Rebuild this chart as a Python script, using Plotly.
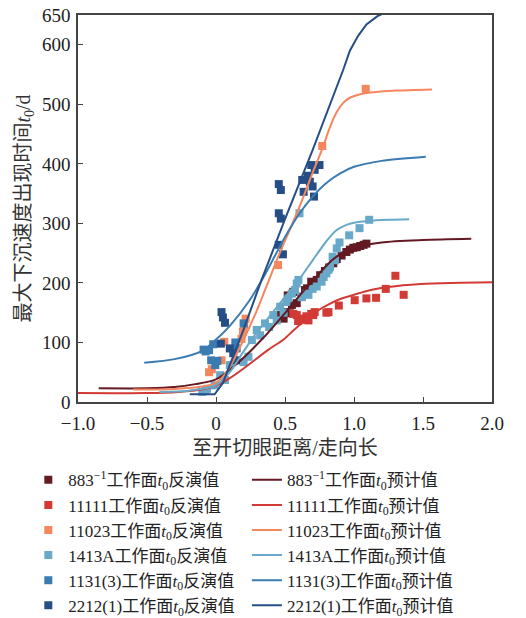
import plotly.graph_objects as go

# ---------------- data ----------------
names = ["883<sup>−1</sup>", "11111", "11023", "1413A", "1131(3)", "2212(1)"]
colors = ["#631a23", "#d23a35", "#f4875e", "#68a9c9", "#3a7bb1", "#264e86"]

# inversion values (squares)
pts_883_x = [0.47, 0.49, 0.50, 0.52, 0.535, 0.55, 0.56, 0.585, 0.62, 0.645, 0.66, 0.69, 0.73,
             0.755, 0.79, 0.82, 0.85, 0.875, 0.91, 0.945, 0.97, 0.995, 1.02, 1.045, 1.07, 1.09]
pts_883_y = [146, 140, 151, 179, 149, 163, 185, 166, 177, 188, 191, 202, 205,
             213, 220, 226, 233, 240, 246, 252, 256, 259, 260, 262, 264, 266]

pts_11111_x = [0.56, 0.585, 0.595, 0.62, 0.635, 0.655, 0.67, 0.69, 0.705, 0.715, 0.80, 0.815,
               0.89, 1.005, 1.09, 1.16, 1.23, 1.30, 1.36]
pts_11111_y = [148, 146, 136, 138, 140, 144, 137, 148, 146, 151, 150, 151,
               162, 171, 174, 175, 190, 212, 180]

pts_11023_x = [-0.05, -0.03, 0.04, 0.06, 0.185, 0.195, 0.205, 0.215, 0.45, 0.77, 1.085]
pts_11023_y = [50, 55, 70, 101, 106, 118, 129, 140, 230, 430, 526]

pts_1413_x = [-0.10, -0.08, -0.065, -0.01, 0.03, 0.065, 0.10, 0.20, 0.235, 0.26, 0.295, 0.32,
              0.355, 0.385, 0.415, 0.44, 0.465, 0.49, 0.51, 0.525, 0.55, 0.572, 0.585, 0.597,
              0.605, 0.62, 0.655, 0.67, 0.70, 0.73, 0.765, 0.78, 0.80, 0.815, 0.826, 0.845,
              0.862, 0.875, 0.895, 0.965, 1.04, 1.11]
pts_1413_y = [17, 20, 22, 28, 45, 37, 62, 67, 76, 104, 121, 112,
              132, 126, 146, 137, 160, 150, 168, 174, 182, 188, 199, 205,
              317, 176, 182, 180, 190, 194, 202, 210, 216, 222, 227, 244,
              238, 258, 268, 280, 292, 306]

pts_1131_x = [-0.09, -0.075, -0.05, -0.02, -0.035, -0.005, 0.01, 0.14, 0.15, 0.20]
pts_1131_y = [88, 85, 87, 97, 70, 62, 69, 100, 90, 132]

pts_2212_x = [0.04, 0.05, 0.065, 0.035, 0.10, 0.125, 0.145, 0.455, 0.47, 0.455, 0.47, 0.455,
              0.485, 0.625, 0.635, 0.665, 0.68, 0.69, 0.70, 0.71, 0.715, 0.75]
pts_2212_y = [151, 142, 133, 98, 90, 82, 70, 366, 356, 317, 308, 264,
              248, 373, 353, 380, 370, 398, 362, 345, 390, 398]

# predicted curves
crv_883_x = [-0.85, -0.5, -0.3, -0.15, 0.0, 0.15, 0.34, 0.51, 0.61, 0.68, 0.85, 1.0, 1.2, 1.5, 1.85]
crv_883_y = [23, 23, 25, 30, 38, 64, 107, 152, 180, 198, 240, 259, 268, 272, 274]

crv_11111_x = [-1.0, -0.5, -0.27, -0.1, 0.0, 0.1, 0.21, 0.38, 0.49, 0.56, 0.61, 0.7, 0.8, 0.9,
               1.0, 1.1, 1.25, 1.48, 1.7, 2.0]
crv_11111_y = [15, 15, 17, 21, 27, 40, 58, 88, 105, 120, 130, 148, 162, 173,
               180, 187, 193, 198, 200, 201]

crv_11023_x = [-0.6, -0.3, -0.1, 0.0, 0.09, 0.19, 0.28, 0.367, 0.44, 0.6, 0.7, 0.77, 0.82,
               0.87, 0.92, 0.97, 1.09, 1.3, 1.565]
crv_11023_y = [21, 22, 26, 32, 55, 100, 145, 195, 238, 325, 385, 425, 458,
               485, 502, 511, 519, 523, 525]

crv_1413_x = [-0.41, -0.2, 0.0, 0.1, 0.2, 0.27, 0.33, 0.45, 0.6, 0.7, 0.8, 0.87, 0.95, 1.0,
              1.1, 1.25, 1.4]
crv_1413_y = [17, 19, 28, 50, 85, 109, 127, 162, 205, 238, 270, 288, 298, 301,
              304, 306, 307]

crv_1131_x = [-0.52, -0.3, -0.1, 0.0, 0.1, 0.244, 0.35, 0.437, 0.52, 0.606, 0.7, 0.8, 0.9,
              1.0, 1.2, 1.52]
crv_1131_y = [66, 72, 86, 105, 128, 171, 212, 250, 285, 317, 345, 368, 384,
              395, 405, 412]

crv_2212_x = [-0.19, -0.01, 0.05, 0.1, 0.2, 0.33, 0.5, 0.7, 0.826, 0.922, 0.97, 1.03, 1.09,
              1.17, 1.3]
crv_2212_y = [13, 13, 32, 62, 122, 205, 307, 423, 499, 558, 590, 615, 634, 648, 662]

x_ticks = [-1.0, -0.5, 0, 0.5, 1.0, 1.5, 2.0]
x_tick_text = ["−1.0", "−0.5", "0", "0.5", "1.0", "1.5", "2.0"]
y_ticks = [0, 100, 200, 300, 400, 500, 600, 650]
y_tick_text = ["0", "100", "200", "300", "400", "500", "600", "650"]

pts = [(pts_883_x, pts_883_y), (pts_11111_x, pts_11111_y), (pts_11023_x, pts_11023_y),
       (pts_1413_x, pts_1413_y), (pts_1131_x, pts_1131_y), (pts_2212_x, pts_2212_y)]
crvs = [(crv_883_x, crv_883_y), (crv_11111_x, crv_11111_y), (crv_11023_x, crv_11023_y),
        (crv_1413_x, crv_1413_y), (crv_1131_x, crv_1131_y), (crv_2212_x, crv_2212_y)]

FONT = "Liberation Serif, 'Times New Roman', 'Noto Sans CJK SC', serif"
T0 = "<i>t</i><sub>0</sub>"

fig = go.Figure()
for i, (px, py) in enumerate(pts):
    fig.add_trace(go.Scatter(
        x=px, y=py, mode="markers", name=f"{names[i]}工作面{T0}反演值",
        marker=dict(symbol="square", size=8, color=colors[i], line=dict(width=0)),
        legend="legend", legendrank=i + 1))
for i, (cx, cy) in enumerate(crvs):
    shape = "linear" if i == 5 else "spline"
    fig.add_trace(go.Scatter(
        x=cx, y=cy, mode="lines", name=f"{names[i]}工作面{T0}预计值",
        line=dict(color=colors[i], width=2, shape=shape, smoothing=0.8),
        legend="legend2", legendrank=i + 1))

legend_common = dict(
    orientation="v", yanchor="top", xanchor="left",
    xref="paper", yref="container",
    font=dict(family=FONT, size=17, color="#222"),
    bgcolor="rgba(0,0,0,0)", borderwidth=0, traceorder="normal",
    itemwidth=30, tracegroupgap=0,
)

fig.update_layout(
    width=526, height=618,
    margin=dict(l=78, r=34, t=15, b=216),
    paper_bgcolor="white", plot_bgcolor="white",
    font=dict(family=FONT, size=18, color="#222"),
    legend=dict(x=-0.12, y=0.252, **legend_common),
    legend2=dict(x=0.408, y=0.252, **legend_common),
    showlegend=True,
)
fig.update_xaxes(
    range=[-1.0, 2.0], tickmode="array", tickvals=x_ticks, ticktext=x_tick_text,
    ticks="inside", ticklen=5, tickwidth=1.2, tickcolor="#444",
    showline=True, linecolor="#444", linewidth=1.5, mirror=True,
    showgrid=False, zeroline=False, automargin=False, ticklabelstandoff=3,
    tickfont=dict(family=FONT, size=19, color="#222"),
    title=dict(text="至开切眼距离/走向长", font=dict(family=FONT, size=20, color="#333"), standoff=8),
)
fig.update_yaxes(
    range=[0, 650], tickmode="array", tickvals=y_ticks, ticktext=y_tick_text,
    ticks="inside", ticklen=5, tickwidth=1.2, tickcolor="#444",
    showline=True, linecolor="#444", linewidth=1.5, mirror=True,
    showgrid=False, zeroline=False, automargin=False, ticklabelstandoff=2,
    tickfont=dict(family=FONT, size=19, color="#222"),
    title=dict(text=f"最大下沉速度出现时间{T0}/d", font=dict(family=FONT, size=20, color="#333"), standoff=6),
)

fig.write_html("out.html")
